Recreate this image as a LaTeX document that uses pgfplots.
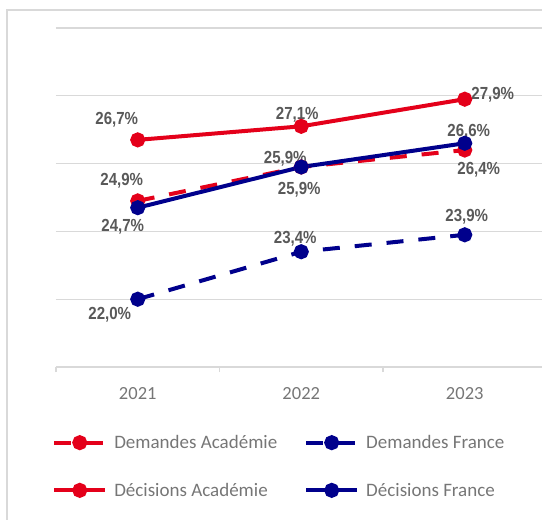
\documentclass[border=0pt]{standalone}
\usepackage{fontspec}
\setmainfont{Carlito}
\newfontfamily\lblfont[FakeStretch=0.86]{Liberation Sans}
\usepackage{pgfplots}
\pgfplotsset{compat=1.18}
\definecolor{acared}{RGB}{228,0,26}
\definecolor{frblue}{RGB}{0,0,140}
\definecolor{gridgray}{RGB}{217,217,217}
\definecolor{txtgray}{RGB}{118,118,118}
\definecolor{lblgray}{RGB}{89,89,89}
\tikzset{lbl/.style={font=\lblfont\bfseries\fontsize{17.5}{18}\selectfont, text=lblgray, inner sep=0pt}}

\begin{document}
\begin{tikzpicture}
\useasboundingbox (0pt,0pt) rectangle (542pt,-520pt);
\clip (0pt,0pt) rectangle (542pt,-520pt);
\draw[gridgray, line width=1.5pt] (7pt,-10pt) rectangle (600pt,-600pt);
\begin{axis}[
    at={(56pt,-367pt)}, anchor=south west,
    scale only axis, width=490.5pt, height=339pt,
    xmin=2020.5, xmax=2023.5, ymin=20, ymax=30,
    separate axis lines,
    axis x line*=bottom, axis y line*=left,
    x axis line style={draw=gridgray, line width=1.2pt},
    y axis line style={draw=none},
    xtick={2021,2022,2023}, xticklabels={2021,2022,2023},
    major tick length=0pt,
    extra x ticks={2020.5,2021.5,2022.5},
    extra x tick labels={},
    extra x tick style={tick align=outside, major tick length=5pt,
        tick style={draw=gridgray, line width=1.2pt}},
    xticklabel style={font=\fontsize{18.5}{20}\selectfont, text=txtgray, yshift=-17pt},
    ytick={22,24,26,28,30}, yticklabels={},
    ytick style={draw=none},
    ymajorgrids, grid style={draw=gridgray, line width=1.2pt},
    clip=false,
    every axis plot/.append style={line width=4pt, mark=*, mark size=5.5pt, mark options={solid}},
    legend columns=2,
    legend style={at={(axis description cs:-0.008,-0.195)}, anchor=north west,
        draw=none, fill=none, inner sep=0pt,
        font=\fontsize{19}{20}\selectfont, text=txtgray,
        /tikz/every odd column/.append style={column sep=5pt},
        /tikz/every even column/.append style={column sep=25pt},
        row sep=29pt},
    legend cell align=left,
    legend image code/.code={
        \draw[mark repeat=2, mark phase=2, #1] plot coordinates {(0pt,0pt) (25.5pt,0pt) (51pt,0pt)};
    },
]
\addplot[acared, dash pattern=on 17pt off 15pt] coordinates {(2021,24.9) (2022,25.9) (2023,26.4)};
\addlegendentry{Demandes Académie}
\addplot[frblue, dash pattern=on 17pt off 15pt] coordinates {(2021,22.0) (2022,23.4) (2023,23.9)};
\addlegendentry{Demandes France}
\addplot[acared] coordinates {(2021,26.7) (2022,27.1) (2023,27.9)};
\addlegendentry{Décisions Académie}
\addplot[frblue] coordinates {(2021,24.7) (2022,25.9) (2023,26.6)};
\addlegendentry{Décisions France}

\node[lbl] at (axis cs:2021,26.7) [xshift=-21pt, yshift=20pt] {26,7\%};
\node[lbl] at (axis cs:2022,27.1) [xshift=-4pt, yshift=12pt] {27,1\%};
\node[lbl] at (axis cs:2023,27.9) [xshift=28pt, yshift=4pt] {27,9\%};
\node[lbl] at (axis cs:2021,24.9) [xshift=-16pt, yshift=20pt] {24,9\%};
\node[lbl] at (axis cs:2022,25.9) [xshift=-16pt, yshift=8pt] {25,9\%};
\node[lbl] at (axis cs:2023,26.4) [xshift=14pt, yshift=-20pt] {26,4\%};
\node[lbl] at (axis cs:2021,24.7) [xshift=-15pt, yshift=-19pt] {24,7\%};
\node[lbl] at (axis cs:2022,25.9) [xshift=-2pt, yshift=-23pt] {25,9\%};
\node[lbl] at (axis cs:2023,26.6) [xshift=4pt, yshift=12pt] {26,6\%};
\node[lbl] at (axis cs:2021,22.0) [xshift=-28pt, yshift=-16pt] {22,0\%};
\node[lbl] at (axis cs:2022,23.4) [xshift=-6pt, yshift=13pt] {23,4\%};
\node[lbl] at (axis cs:2023,23.9) [xshift=2pt, yshift=18pt] {23,9\%};
\end{axis}
\end{tikzpicture}
\end{document}
